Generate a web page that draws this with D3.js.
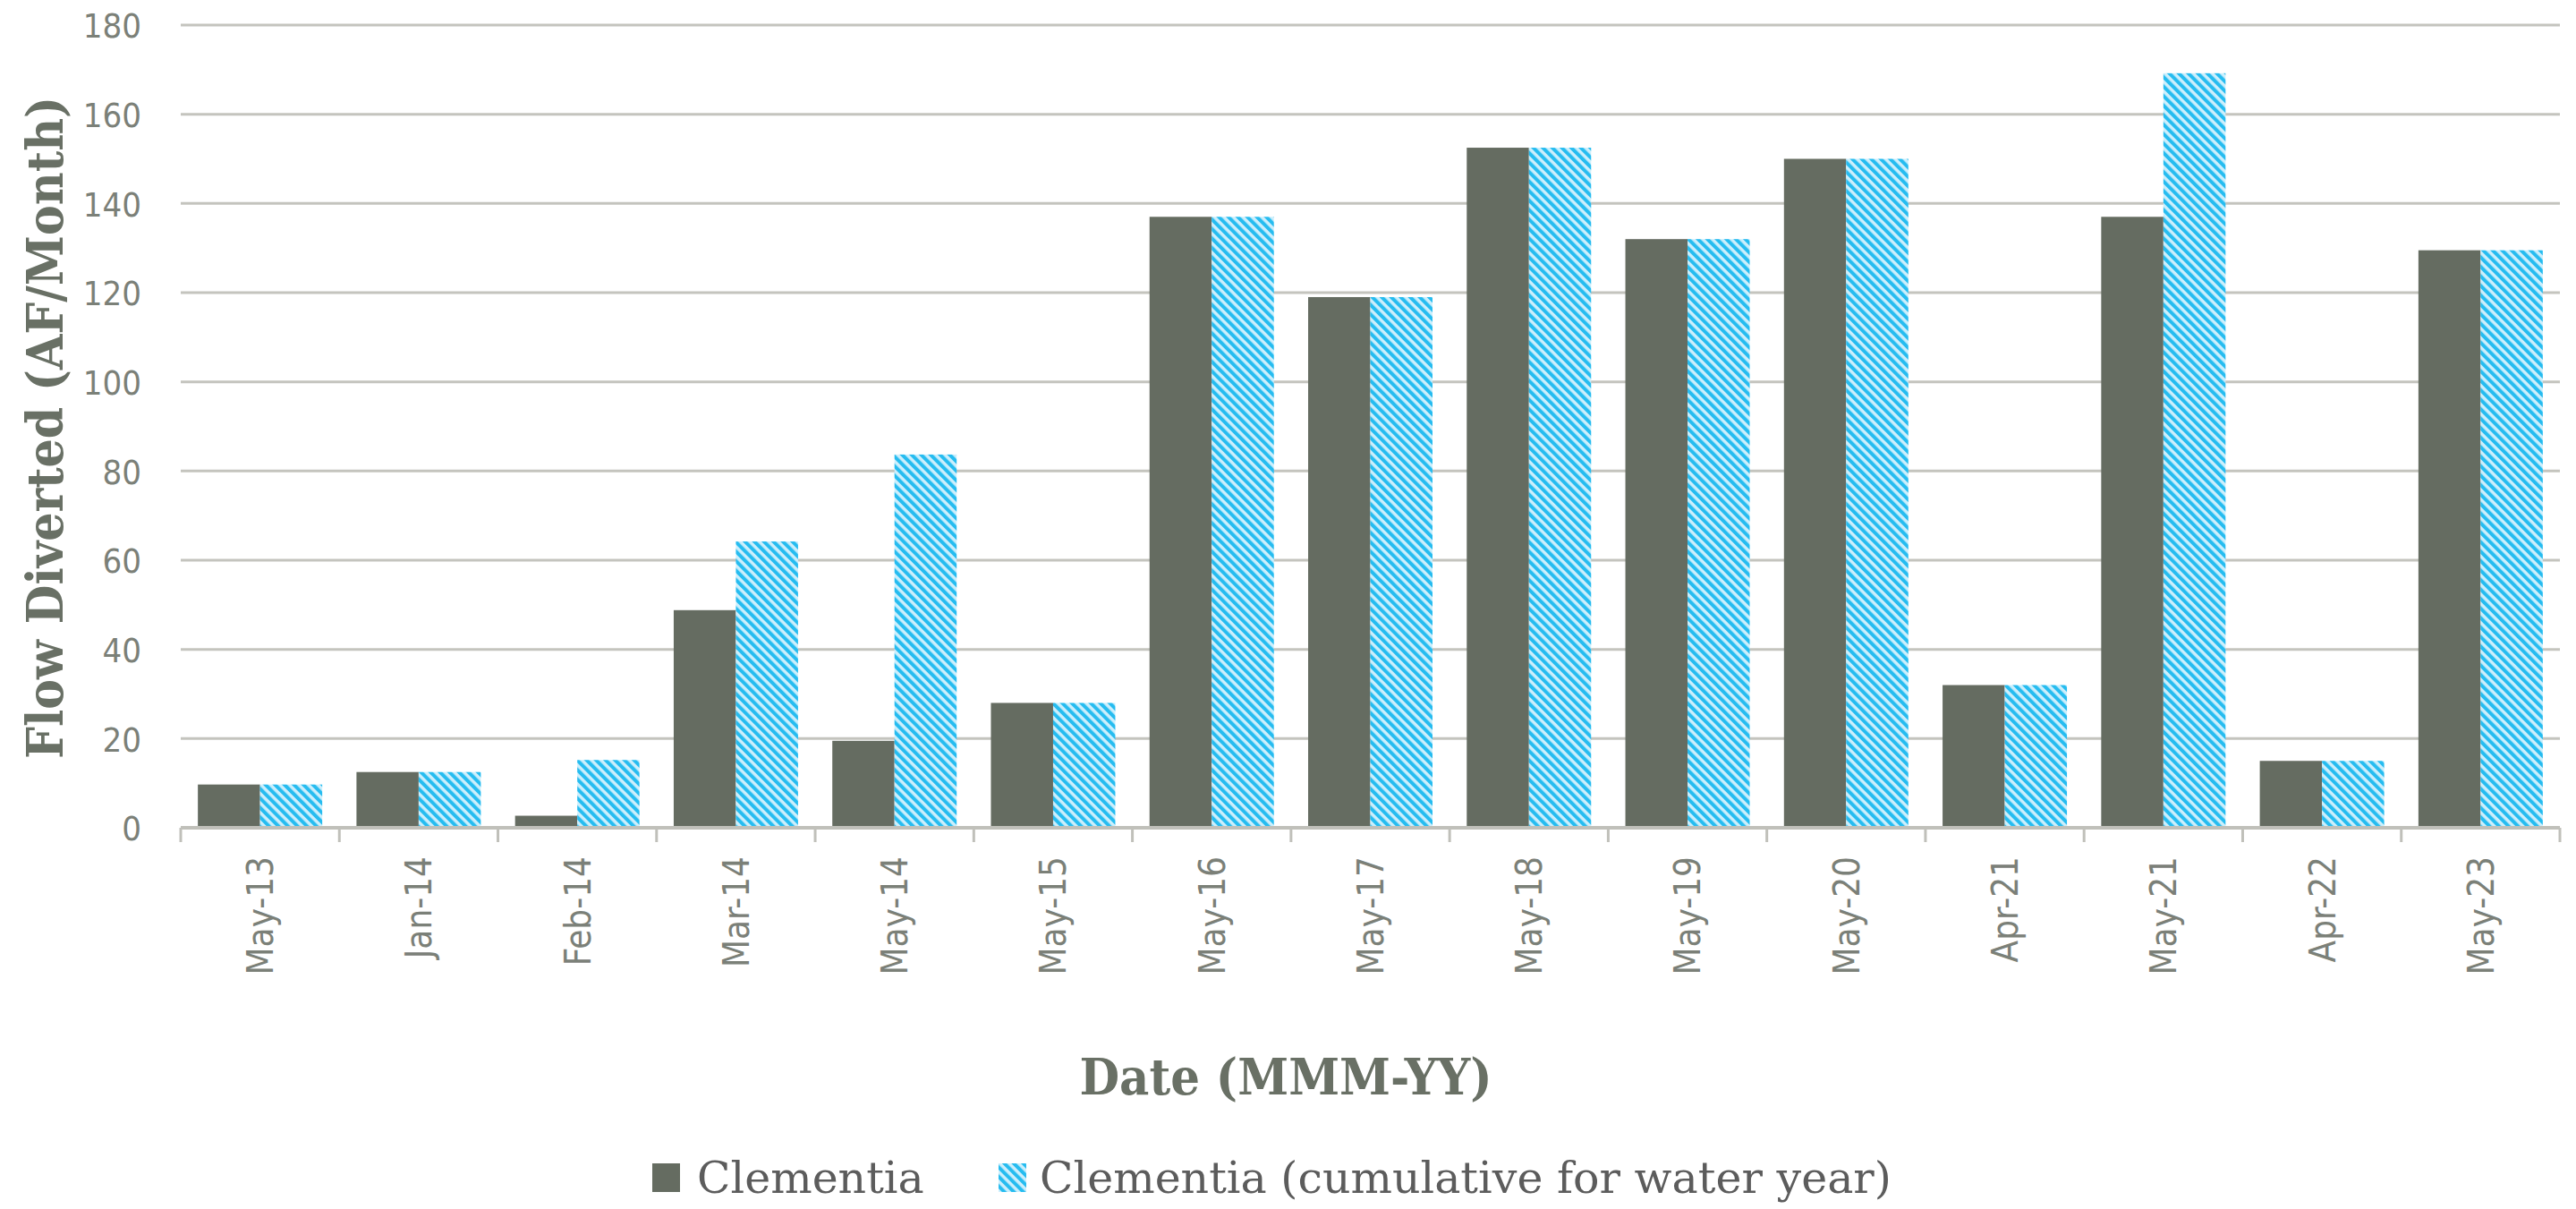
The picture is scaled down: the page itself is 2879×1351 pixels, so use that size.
<!DOCTYPE html>
<html>
<head>
<meta charset="utf-8">
<script src="https://cdn.jsdelivr.net/npm/d3@7"></script>
<style>
  html, body { margin: 0; padding: 0; background: #ffffff; }
  svg { display: block; }
</style>
</head>
<body>
<script>
// ---- data ----
const categories = ["May-13","Jan-14","Feb-14","Mar-14","May-14","May-15","May-16","May-17","May-18","May-19","May-20","Apr-21","May-21","Apr-22","May-23"];
const monthly    = [9.7, 12.5, 2.7, 48.8, 19.5, 28, 137, 119, 152.5, 132, 150, 32, 137, 15, 129.5];
const cumulative = [9.7, 12.5, 15.2, 64.2, 83.7, 28, 137, 119, 152.5, 132, 150, 32, 169.2, 15, 129.5];
const yTicks = [0, 20, 40, 60, 80, 100, 120, 140, 160, 180];
const seriesNames = ["Clementia", "Clementia (cumulative for water year)"];

// ---- layout ----
const W = 2879, H = 1351;
const plot = { left: 202, right: 2861, top: 28, bottom: 925 };
const darkColor = "#656c61";
const gridColor = "#c4c4be";
const tickText = "#7b8078";
const titleColor = "#697065";

const svg = d3.select("body").append("svg").attr("width", W).attr("height", H);

const defs = svg.append("defs");
const pat = defs.append("pattern")
  .attr("id", "hatch")
  .attr("patternUnits", "userSpaceOnUse")
  .attr("width", 7.5).attr("height", 7.5)
  .attr("patternTransform", "rotate(-45)");
pat.append("rect").attr("width", 7.5).attr("height", 7.5).attr("fill", "#cdeffc");
pat.append("rect").attr("width", 4).attr("height", 7.5).attr("fill", "#26bcf0");

const x0 = d3.scaleBand().domain(categories).range([plot.left, plot.right]).paddingInner(0).paddingOuter(0);
const bw = x0.bandwidth();
const x1 = d3.scaleBand().domain([0, 1]).range([bw * 0.108, bw * 0.892]).padding(0);
const y = d3.scaleLinear().domain([0, 180]).range([plot.bottom, plot.top]);

// gridlines
svg.append("g").selectAll("line").data(yTicks.filter(d => d > 0)).join("line")
  .attr("x1", plot.left).attr("x2", plot.right)
  .attr("y1", d => y(d)).attr("y2", d => y(d))
  .attr("stroke", gridColor).attr("stroke-width", 3);

// y tick labels via axis
const yAxis = svg.append("g").attr("transform", `translate(${plot.left - 44},0)`)
  .call(d3.axisLeft(y).tickValues(yTicks).tickSize(0).tickPadding(0));
yAxis.select(".domain").remove();
yAxis.selectAll("text")
  .attr("font-family", "'DejaVu Sans', Verdana, sans-serif")
  .style("font-stretch", "condensed")
  .attr("font-size", 38)
  .attr("fill", tickText)
  .attr("dy", "0.36em");

// bars
const groups = svg.append("g").selectAll("g").data(categories).join("g")
  .attr("transform", d => `translate(${x0(d)},0)`);
groups.append("rect")
  .attr("x", x1(0)).attr("width", x1.bandwidth())
  .attr("y", (d, i) => y(monthly[i]))
  .attr("height", (d, i) => y(0) - y(monthly[i]))
  .attr("fill", darkColor);
groups.append("rect")
  .attr("x", x1(1)).attr("width", x1.bandwidth())
  .attr("y", (d, i) => y(cumulative[i]))
  .attr("height", (d, i) => y(0) - y(cumulative[i]))
  .attr("fill", "url(#hatch)");

// x axis line + ticks at band boundaries
const bounds = categories.map(c => x0(c)).concat([plot.right]);
svg.append("line")
  .attr("x1", plot.left).attr("x2", plot.right)
  .attr("y1", plot.bottom).attr("y2", plot.bottom)
  .attr("stroke", "#c0c0ba").attr("stroke-width", 4);
svg.append("g").selectAll("line").data(bounds).join("line")
  .attr("x1", d => d).attr("x2", d => d)
  .attr("y1", plot.bottom).attr("y2", plot.bottom + 16)
  .attr("stroke", "#c0c0ba").attr("stroke-width", 3);

// x tick labels (rotated)
svg.append("g").selectAll("text").data(categories).join("text")
  .attr("transform", d => `translate(${x0(d) + bw / 2},957) rotate(-90)`)
  .attr("text-anchor", "end")
  .attr("dy", "0.36em")
  .attr("font-family", "'DejaVu Sans', Verdana, sans-serif")
  .style("font-stretch", "condensed")
  .attr("font-size", 40)
  .attr("fill", tickText)
  .text(d => d);

// axis titles
svg.append("text")
  .attr("transform", "translate(70,478) rotate(-90)")
  .attr("text-anchor", "middle")
  .attr("font-family", "'DejaVu Serif', 'Liberation Serif', serif")
  .attr("font-weight", "bold")
  .attr("font-size", 56)
  .attr("textLength", 740).attr("lengthAdjust", "spacingAndGlyphs")
  .attr("fill", titleColor)
  .text("Flow Diverted (AF/Month)");

svg.append("text")
  .attr("x", 1437).attr("y", 1223)
  .attr("text-anchor", "middle")
  .attr("font-family", "'DejaVu Serif', 'Liberation Serif', serif")
  .attr("font-weight", "bold")
  .attr("font-size", 56)
  .attr("textLength", 461).attr("lengthAdjust", "spacingAndGlyphs")
  .attr("fill", titleColor)
  .text("Date (MMM-YY)");

// legend
const legendItems = [
  { name: seriesNames[0], fill: darkColor, sx: 729, tx: 779 },
  { name: seriesNames[1], fill: "url(#hatch)", sx: 1116, tx: 1162 }
];
const lg = svg.append("g");
lg.selectAll("rect").data(legendItems).join("rect")
  .attr("x", d => d.sx).attr("y", 1300).attr("width", 31).attr("height", 32)
  .attr("fill", d => d.fill);
lg.selectAll("text").data(legendItems).join("text")
  .attr("x", d => d.tx).attr("y", 1333)
  .attr("font-family", "'DejaVu Serif', 'Liberation Serif', serif")
  .attr("font-size", 49)
  .attr("fill", "#5c5c5c")
  .text(d => d.name);
</script>
</body>
</html>
